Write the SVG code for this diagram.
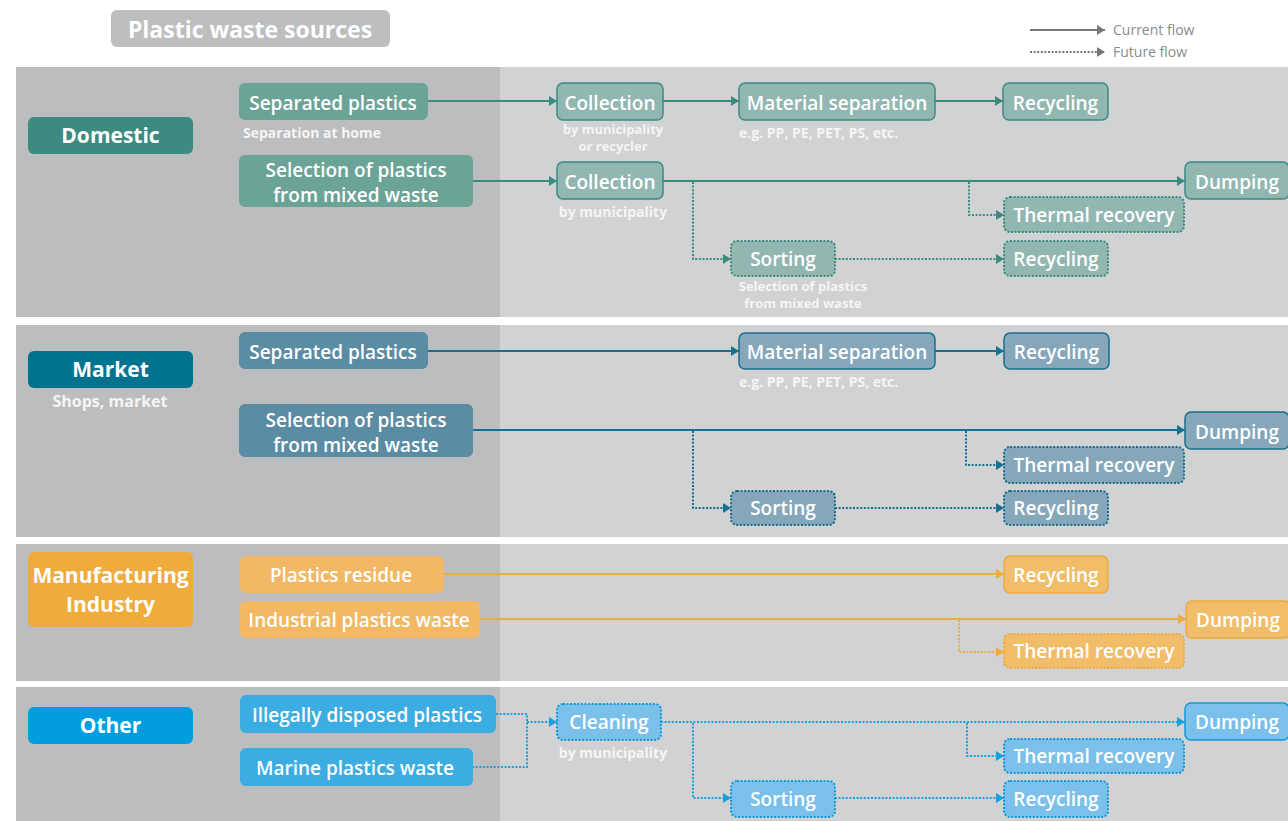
<svg xmlns="http://www.w3.org/2000/svg" width="1288" height="821" viewBox="0 0 1288 821">
  <defs>
    <style>
      text { font-family: 'Open Sans', 'Liberation Sans', sans-serif; fill: #ffffff; }
      .t { font-size: 19px; font-weight: 600; text-anchor: middle; }
      .cat { font-size: 21px; font-weight: 700; text-anchor: middle; }
      .sub { font-size: 14px; font-weight: 700; fill: #f5f5f5; }
      .sub2 { font-size: 13px; font-weight: 700; fill: #f5f5f5; text-anchor: middle; }
      .mid { text-anchor: middle; }
      .leg { font-size: 14px; font-weight: 400; fill: #8a8b8d; }
      .bgL { fill: #bcbdbf; }
      .bgR { fill: #d1d2d4; }
      .ln { fill: none; stroke-width: 2; }
      .dot { stroke-dasharray: 2 1.6; }
      .dotted { stroke-width: 2; stroke-dasharray: 2 1.6; }
      .solid { stroke-width: 1.5; }
      /* domestic */
      .dCat { fill: #3b8b80; }
      .dSrc { fill: #6ca397; }
      .dDst { fill: #92b7b1; stroke: #3b8b80; }
      .dLn { stroke: #3b8b80; }
      /* market */
      .mCat { fill: #00748f; }
      .mSrc { fill: #5a8ca4; }
      .mDst { fill: #86a7ba; stroke: #176f8c; }
      .mLn { stroke: #15718f; }
      /* manufacturing */
      .fCat { fill: #efab3b; }
      .fSrc { fill: #f2b863; }
      .fDst { fill: #f2bd68; stroke: #eeab3e; }
      .fLn { stroke: #eeab3e; }
      /* other */
      .oCat { fill: #009ede; }
      .oSrc { fill: #3badE3; }
      .oDst { fill: #7bc0ea; stroke: #0f9ad8; }
      .oLn { stroke: #1ba0dd; }
    </style>
    <marker id="aDom" viewBox="0 0 8 10" markerWidth="8" markerHeight="10" refX="8" refY="5" markerUnits="userSpaceOnUse" orient="auto"><path d="M0,0 L8,5 L0,10 Z" fill="#3b8b80"/></marker>
    <marker id="aMkt" viewBox="0 0 8 10" markerWidth="8" markerHeight="10" refX="8" refY="5" markerUnits="userSpaceOnUse" orient="auto"><path d="M0,0 L8,5 L0,10 Z" fill="#15718f"/></marker>
    <marker id="aMfg" viewBox="0 0 8 10" markerWidth="8" markerHeight="10" refX="8" refY="5" markerUnits="userSpaceOnUse" orient="auto"><path d="M0,0 L8,5 L0,10 Z" fill="#eeab3e"/></marker>
    <marker id="aOth" viewBox="0 0 8 10" markerWidth="8" markerHeight="10" refX="8" refY="5" markerUnits="userSpaceOnUse" orient="auto"><path d="M0,0 L8,5 L0,10 Z" fill="#1ba0dd"/></marker>
    <marker id="aLeg" viewBox="0 0 8 10" markerWidth="8" markerHeight="10" refX="8" refY="5" markerUnits="userSpaceOnUse" orient="auto"><path d="M0,0 L8,5 L0,10 Z" fill="#77787b"/></marker>
  </defs>

  <rect width="1288" height="821" fill="#ffffff"/>

  <!-- section bands -->
  <g id="bands">
    <rect class="bgL" x="16" y="67" width="484" height="250"/>
    <rect class="bgR" x="500" y="67" width="788" height="250"/>
    <rect class="bgL" x="16" y="325" width="484" height="212"/>
    <rect class="bgR" x="500" y="325" width="788" height="212"/>
    <rect class="bgL" x="16" y="544" width="484" height="137"/>
    <rect class="bgR" x="500" y="544" width="788" height="137"/>
    <rect class="bgL" x="16" y="687" width="484" height="134"/>
    <rect class="bgR" x="500" y="687" width="788" height="134"/>
  </g>

  <!-- title -->
  <g id="title">
    <rect x="111" y="10" width="279" height="37" rx="6" fill="#bdbec0"/>
    <text x="250" y="38" class="cat" style="font-size:23px">Plastic waste sources</text>
  </g>

  <!-- legend -->
  <g id="legend">
    <path d="M1030,30 H1105" class="ln" stroke="#77787b" marker-end="url(#aLeg)"/>
    <text x="1113" y="35" class="leg">Current flow</text>
    <path d="M1030,52 H1105" class="ln dot" stroke="#77787b" marker-end="url(#aLeg)"/>
    <text x="1113" y="57" class="leg">Future flow</text>
  </g>

  <!-- connectors -->
  <g id="connectors">
    <!-- domestic -->
    <path class="ln dLn" d="M428,101 H557" marker-end="url(#aDom)"/>
    <path class="ln dLn" d="M663,101 H739" marker-end="url(#aDom)"/>
    <path class="ln dLn" d="M935,101 H1003" marker-end="url(#aDom)"/>
    <path class="ln dLn" d="M473,181 H557" marker-end="url(#aDom)"/>
    <path class="ln dLn" d="M663,181 H1185" marker-end="url(#aDom)"/>
    <path class="ln dLn dot" d="M693,182 V259 H731" marker-end="url(#aDom)"/>
    <path class="ln dLn dot" d="M969,182 V215 H1004" marker-end="url(#aDom)"/>
    <path class="ln dLn dot" d="M835,259 H1004" marker-end="url(#aDom)"/>
    <!-- market -->
    <path class="ln mLn" d="M428,351 H739" marker-end="url(#aMkt)"/>
    <path class="ln mLn" d="M935,351 H1004" marker-end="url(#aMkt)"/>
    <path class="ln mLn" d="M473,430 H1185" marker-end="url(#aMkt)"/>
    <path class="ln mLn dot" d="M693,431 V508 H731" marker-end="url(#aMkt)"/>
    <path class="ln mLn dot" d="M966,431 V465 H1004" marker-end="url(#aMkt)"/>
    <path class="ln mLn dot" d="M835,508 H1004" marker-end="url(#aMkt)"/>
    <!-- manufacturing -->
    <path class="ln fLn" d="M444,574 H1004" marker-end="url(#aMfg)"/>
    <path class="ln fLn" d="M480,619 H1186" marker-end="url(#aMfg)"/>
    <path class="ln fLn dot" d="M959,620 V652 H1004" marker-end="url(#aMfg)"/>
    <!-- other -->
    <path class="ln oLn dot" d="M496,714 H527 V767 H473"/>
    <path class="ln oLn dot" d="M527,722 H557" marker-end="url(#aOth)"/>
    <path class="ln oLn dot" d="M661,722 H1185" marker-end="url(#aOth)"/>
    <path class="ln oLn dot" d="M693,723 V798 H731" marker-end="url(#aOth)"/>
    <path class="ln oLn dot" d="M967,723 V756 H1004" marker-end="url(#aOth)"/>
    <path class="ln oLn dot" d="M835,798 H1004" marker-end="url(#aOth)"/>
  </g>

  <!-- Domestic -->
  <g id="domestic">
    <rect class="dCat" x="28" y="117" width="165" height="37" rx="6"/>
    <text class="cat" x="110.5" y="143">Domestic</text>
  </g>
  <g id="dom-separated">
    <rect class="dSrc" x="239" y="83" width="189" height="37" rx="6"/>
    <text class="t" x="333" y="110">Separated plastics</text>
    <text class="sub" x="243" y="138">Separation at home</text>
  </g>
  <g id="dom-selection">
    <rect class="dSrc" x="239" y="155" width="234" height="52" rx="6"/>
    <text class="t" x="356" y="177">Selection of plastics</text>
    <text class="t" x="356" y="202">from mixed waste</text>
  </g>
  <g id="dom-collection1">
    <rect class="dDst solid" x="557" y="83" width="106" height="37" rx="6"/>
    <text class="t" x="610" y="110">Collection</text>
    <text class="sub2" x="613" y="134">by municipality</text>
    <text class="sub2" x="613" y="151">or recycler</text>
  </g>
  <g id="dom-material">
    <rect class="dDst solid" x="739" y="83" width="196" height="37" rx="6"/>
    <text class="t" x="837" y="110">Material separation</text>
    <text class="sub" x="739" y="138">e.g. PP, PE, PET, PS, etc.</text>
  </g>
  <g id="dom-recycling1">
    <rect class="dDst solid" x="1003" y="83" width="105" height="37" rx="6"/>
    <text class="t" x="1055.5" y="110">Recycling</text>
  </g>
  <g id="dom-collection2">
    <rect class="dDst solid" x="557" y="162" width="106" height="37" rx="6"/>
    <text class="t" x="610" y="189">Collection</text>
    <text class="sub mid" x="613" y="217">by municipality</text>
  </g>
  <g id="dom-dumping">
    <rect class="dDst solid" x="1185" y="162" width="104" height="37" rx="6"/>
    <text class="t" x="1237" y="189">Dumping</text>
  </g>
  <g id="dom-thermal">
    <rect class="dDst dotted" x="1004" y="197" width="180" height="35" rx="6"/>
    <text class="t" x="1094" y="222">Thermal recovery</text>
  </g>
  <g id="dom-sorting">
    <rect class="dDst dotted" x="731" y="241" width="104" height="35" rx="6"/>
    <text class="t" x="783" y="266">Sorting</text>
    <text class="sub2" x="803" y="291">Selection of plastics</text>
    <text class="sub2" x="803" y="308">from mixed waste</text>
  </g>
  <g id="dom-recycling2">
    <rect class="dDst dotted" x="1004" y="241" width="104" height="35" rx="6"/>
    <text class="t" x="1056" y="266">Recycling</text>
  </g>

  <!-- Market -->
  <g id="market">
    <rect class="mCat" x="28" y="351" width="165" height="37" rx="6"/>
    <text class="cat" x="110.5" y="377">Market</text>
    <text class="sub mid" x="110" y="407" style="font-size:16px">Shops, market</text>
  </g>
  <g id="mkt-separated">
    <rect class="mSrc" x="239" y="332" width="189" height="37" rx="6"/>
    <text class="t" x="333" y="359">Separated plastics</text>
  </g>
  <g id="mkt-selection">
    <rect class="mSrc" x="239" y="404" width="234" height="53" rx="6"/>
    <text class="t" x="356" y="427">Selection of plastics</text>
    <text class="t" x="356" y="452">from mixed waste</text>
  </g>
  <g id="mkt-material">
    <rect class="mDst solid" x="739" y="333" width="196" height="36" rx="6"/>
    <text class="t" x="837" y="359">Material separation</text>
    <text class="sub" x="739" y="387">e.g. PP, PE, PET, PS, etc.</text>
  </g>
  <g id="mkt-recycling1">
    <rect class="mDst solid" x="1004" y="333" width="105" height="36" rx="6"/>
    <text class="t" x="1056.5" y="359">Recycling</text>
  </g>
  <g id="mkt-dumping">
    <rect class="mDst solid" x="1185" y="412" width="104" height="37" rx="6"/>
    <text class="t" x="1237" y="439">Dumping</text>
  </g>
  <g id="mkt-thermal">
    <rect class="mDst dotted" x="1004" y="447" width="180" height="36" rx="6"/>
    <text class="t" x="1094" y="472">Thermal recovery</text>
  </g>
  <g id="mkt-sorting">
    <rect class="mDst dotted" x="731" y="491" width="104" height="34" rx="6"/>
    <text class="t" x="783" y="515">Sorting</text>
  </g>
  <g id="mkt-recycling2">
    <rect class="mDst dotted" x="1004" y="491" width="104" height="34" rx="6"/>
    <text class="t" x="1056" y="515">Recycling</text>
  </g>

  <!-- Manufacturing Industry -->
  <g id="manufacturing">
    <rect class="fCat" x="28" y="552" width="165" height="75" rx="6"/>
    <text class="cat" x="110.5" y="583">Manufacturing</text>
    <text class="cat" x="110.5" y="612">Industry</text>
  </g>
  <g id="mfg-residue">
    <rect class="fSrc" x="240" y="556" width="204" height="37" rx="6"/>
    <text class="t" x="341" y="582">Plastics residue</text>
  </g>
  <g id="mfg-industrial">
    <rect class="fSrc" x="240" y="601" width="240" height="37" rx="6"/>
    <text class="t" x="359" y="627">Industrial plastics waste</text>
  </g>
  <g id="mfg-recycling">
    <rect class="fDst solid" x="1004" y="556" width="104" height="37" rx="6"/>
    <text class="t" x="1056" y="582">Recycling</text>
  </g>
  <g id="mfg-dumping">
    <rect class="fDst solid" x="1186" y="601" width="104" height="37" rx="6"/>
    <text class="t" x="1238" y="627">Dumping</text>
  </g>
  <g id="mfg-thermal">
    <rect class="fDst dotted" x="1004" y="634" width="180" height="34" rx="6"/>
    <text class="t" x="1094" y="658">Thermal recovery</text>
  </g>

  <!-- Other -->
  <g id="other">
    <rect class="oCat" x="28" y="707" width="165" height="37" rx="6"/>
    <text class="cat" x="110.5" y="733">Other</text>
  </g>
  <g id="oth-illegal">
    <rect class="oSrc" x="240" y="695" width="256" height="38" rx="6"/>
    <text class="t" x="367" y="722">Illegally disposed plastics</text>
  </g>
  <g id="oth-marine">
    <rect class="oSrc" x="240" y="748" width="233" height="38" rx="6"/>
    <text class="t" x="355" y="775">Marine plastics waste</text>
  </g>
  <g id="oth-cleaning">
    <rect class="oDst dotted" x="557" y="704" width="104" height="36" rx="6"/>
    <text class="t" x="609" y="729">Cleaning</text>
    <text class="sub mid" x="613" y="758">by municipality</text>
  </g>
  <g id="oth-dumping">
    <rect class="oDst solid" x="1185" y="703" width="104" height="37" rx="6"/>
    <text class="t" x="1237" y="729">Dumping</text>
  </g>
  <g id="oth-thermal">
    <rect class="oDst dotted" x="1004" y="739" width="180" height="34" rx="6"/>
    <text class="t" x="1094" y="763">Thermal recovery</text>
  </g>
  <g id="oth-sorting">
    <rect class="oDst dotted" x="731" y="781" width="104" height="36" rx="6"/>
    <text class="t" x="783" y="806">Sorting</text>
  </g>
  <g id="oth-recycling">
    <rect class="oDst dotted" x="1004" y="781" width="104" height="36" rx="6"/>
    <text class="t" x="1056" y="806">Recycling</text>
  </g>
</svg>
